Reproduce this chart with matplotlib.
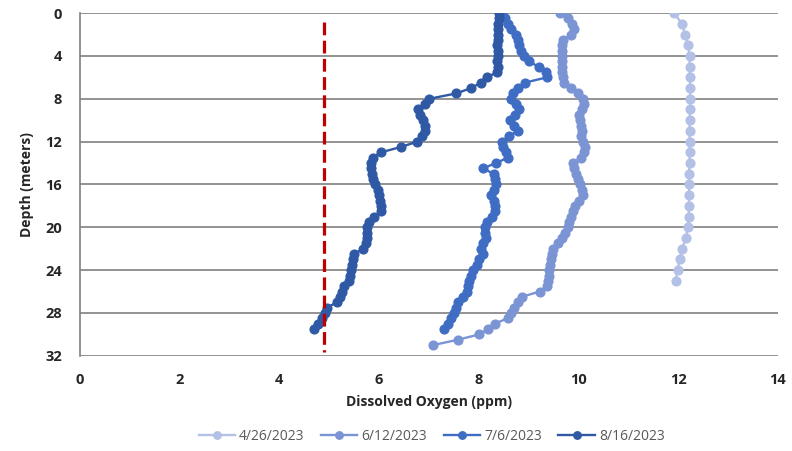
import matplotlib
matplotlib.use("Agg")
import matplotlib.pyplot as plt

# ---------------- data ----------------
depth_0426 = [0, 1, 2, 3, 4, 5, 6, 7, 8, 9, 10, 11, 12, 13, 14, 15, 16, 17, 18, 19,
              20, 21, 22, 23, 24, 25]
do_0426 = [11.92, 12.08, 12.14, 12.20, 12.23, 12.23, 12.24, 12.24, 12.24, 12.24, 12.23,
           12.23, 12.23, 12.23, 12.23, 12.22, 12.22, 12.22, 12.22, 12.21, 12.19, 12.16,
           12.08, 12.03, 11.99, 11.95]

depth_0612 = [0, 0.5, 1, 1.5, 2, 2.5, 3, 3.5, 4, 4.5, 5, 5.5, 6, 6.5, 7, 7.5, 8, 8.5, 9, 9.5,
              10, 10.5, 11, 11.5, 12, 12.5, 13, 13.5, 14, 14.5, 15, 15.5, 16, 16.5, 17, 17.5,
              18, 18.5, 19, 19.5, 20, 20.5, 21, 21.5, 22, 22.5, 23, 23.5, 24, 24.5, 25, 25.5,
              26, 26.5, 27, 27.5, 28, 28.5, 29, 29.5, 30, 30.5, 31]
do_0612 = [9.64, 9.80, 9.88, 9.92, 9.85, 9.70, 9.68, 9.67, 9.67, 9.67, 9.68, 9.68, 9.69,
           9.72, 9.85, 10.00, 10.10, 10.12, 10.08, 10.02, 10.03, 10.05, 10.07, 10.06, 10.10,
           10.13, 10.12, 10.05, 9.90, 9.92, 9.96, 10.00, 10.03, 10.07, 10.09, 10.02, 9.93,
           9.89, 9.86, 9.82, 9.79, 9.74, 9.68, 9.60, 9.50, 9.47, 9.45, 9.44, 9.42, 9.41,
           9.40, 9.38, 9.22, 8.86, 8.78, 8.70, 8.64, 8.58, 8.32, 8.18, 8.01, 7.58, 7.08]

depth_0706 = [0, 0.5, 1, 1.5, 2, 2.5, 3, 3.5, 4, 4.5, 5, 5.5, 6, 6.5, 7, 7.5, 8, 8.5, 9, 9.5,
              10, 10.5, 11, 11.5, 12, 12.5, 13, 13.5, 14, 14.5, 15, 15.5, 16, 16.5, 17, 17.5,
              18, 18.5, 19, 19.5, 20, 20.5, 21, 21.5, 22, 22.5, 23, 23.5, 24, 24.5, 25, 25.5,
              26, 26.5, 27, 27.5, 28, 28.5, 29, 29.5]
do_0706 = [8.45, 8.53, 8.58, 8.65, 8.74, 8.79, 8.81, 8.84, 8.90, 9.00, 9.20, 9.35, 9.37,
           8.92, 8.78, 8.68, 8.65, 8.75, 8.80, 8.72, 8.62, 8.70, 8.79, 8.60, 8.46, 8.49,
           8.55, 8.58, 8.35, 8.08, 8.30, 8.33, 8.35, 8.30, 8.25, 8.30, 8.33, 8.33, 8.26,
           8.17, 8.12, 8.13, 8.15, 8.08, 8.05, 8.08, 8.00, 7.96, 7.88, 7.84, 7.81, 7.79,
           7.76, 7.68, 7.59, 7.55, 7.51, 7.45, 7.38, 7.30]

depth_0816 = [0, 0.5, 1, 1.5, 2, 2.5, 3, 3.5, 4, 4.5, 5, 5.5, 6, 6.5, 7, 7.5, 8, 8.5, 9, 9.5,
              10, 10.5, 11, 11.5, 12, 12.5, 13, 13.5, 14, 14.5, 15, 15.5, 16, 16.5, 17, 17.5,
              18, 18.5, 19, 19.5, 20, 20.5, 21, 21.5, 22, 22.5, 23, 23.5, 24, 24.5, 25, 25.5,
              26, 26.5, 27, 27.5, 28, 28.5, 29, 29.5]
do_0816 = [8.41, 8.40, 8.39, 8.38, 8.38, 8.38, 8.37, 8.38, 8.38, 8.37, 8.38, 8.37, 8.17,
           8.04, 7.85, 7.55, 7.01, 6.93, 6.78, 6.83, 6.88, 6.92, 6.93, 6.86, 6.77, 6.44,
           6.04, 5.87, 5.84, 5.84, 5.86, 5.88, 5.91, 5.97, 6.00, 6.02, 6.04, 6.04, 5.90,
           5.79, 5.76, 5.75, 5.75, 5.74, 5.68, 5.50, 5.47, 5.45, 5.43, 5.42, 5.40, 5.30,
           5.26, 5.22, 5.15, 4.96, 4.91, 4.85, 4.77, 4.69]

series_labels = ["4/26/2023", "6/12/2023", "7/6/2023", "8/16/2023"]
threshold_do = [4.9, 4.9]
threshold_depth = [0.8, 31.6]

x_ticks = [0, 2, 4, 6, 8, 10, 12, 14]
y_ticks = [0, 4, 8, 12, 16, 20, 24, 28, 32]

# ---------------- plot ----------------
colors = ["#b4c1e6", "#7b94d4", "#3f6dc4", "#2f59a5"]
fig = plt.figure(figsize=(7.92, 4.51), dpi=100)
ax = fig.add_axes([0.101, 0.211, 0.881, 0.760])

for d, v, lab, c in zip([depth_0426, depth_0612, depth_0706, depth_0816],
                        [do_0426, do_0612, do_0706, do_0816],
                        series_labels, colors):
    ax.plot(v, d, color=c, lw=1.7, marker="o", markersize=6.3, label=lab, zorder=3)

ax.plot(threshold_do, threshold_depth, color="#c00000", lw=2.3, dashes=(4, 1.7),
        zorder=4)

ax.set_xlim(0, 14)
ax.set_ylim(32, 0)
ax.set_xticks(x_ticks)
ax.set_yticks(y_ticks)
ax.set_xticklabels([str(t) for t in x_ticks])
ax.set_yticklabels([str(t) for t in y_ticks])

ax.grid(axis="y", color="#808080", lw=1.2)
ax.set_axisbelow(True)
for s in ["top", "right", "bottom"]:
    ax.spines[s].set_visible(False)
ax.spines["left"].set_color("#808080")
ax.spines["left"].set_linewidth(1.2)
ax.tick_params(axis="both", length=0, labelsize=10.5, colors="#262626")
ax.tick_params(axis="y", pad=13)
ax.tick_params(axis="x", pad=12)
for lbl in ax.get_xticklabels() + ax.get_yticklabels():
    lbl.set_fontweight("bold")
    lbl.set_family("Open Sans")

ax.set_xlabel("Dissolved Oxygen (ppm)", fontsize=10, fontweight="bold",
              family="Open Sans", labelpad=6, color="#262626")
ax.set_ylabel("Depth (meters)", fontsize=10, fontweight="bold",
              family="Open Sans", labelpad=8, color="#262626")

leg = fig.legend(loc="center", bbox_to_anchor=(0.545, 0.033), ncol=4, frameon=False,
                 prop={"family": "Open Sans", "size": 10}, handlelength=2.6,
                 columnspacing=1.2, handletextpad=0.3, markerscale=0.85)
for t in leg.get_texts():
    t.set_color("#595959")

fig.savefig("out.png", dpi=100)
